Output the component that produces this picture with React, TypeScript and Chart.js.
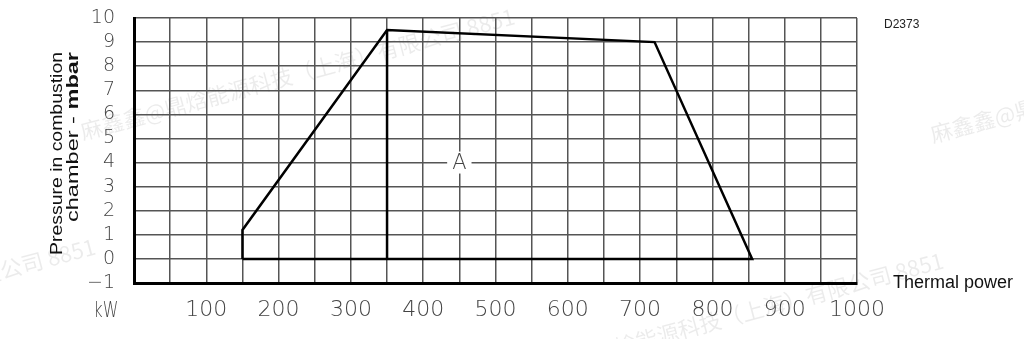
import React, { useEffect, useRef } from 'react';
import { Chart, registerables } from 'chart.js';

Chart.register(...registerables);

// ---- data ----
const xMin = 0;
const xMax = 1000;
const xGridStep = 50;
const yMin = -1;
const yMax = 10;
const yStep = 1;
const xLabelValues = [100, 200, 300, 400, 500, 600, 700, 800, 900, 1000];

const outlineX = [150, 150, 350, 720, 855, 150];
const outlineY = [0, 1.2, 9.5, 9.0, 0, 0];
const dividerX = [350, 350];
const dividerY = [0, 9.5];

const areaLabelText = 'A';
const areaLabelX = 450;
const areaLabelY = 4;

const yTitleLine1 = 'Pressure in combustion';
const yTitleLine2Regular = 'chamber - ';
const yTitleLine2Bold = 'mbar';
const xUnitText = 'kW';
const xTitleText = 'Thermal power';
const drawingCode = 'D2373';
const watermarkText = '麻鑫鑫@鼎焓能源科技（上海）有限公司 8851';

const THIN_FONT = '"DejaVu Sans"';
const SANS = '"Liberation Sans", Arial, sans-serif';

const decorPlugin = {
  id: 'decor',
  beforeDraw(chart: any) {
    const ctx = chart.ctx;
    ctx.save();
    ctx.fillStyle = '#ffffff';
    ctx.fillRect(0, 0, chart.width, chart.height);
    // faint watermarks
    ctx.font = '22px "Noto Sans CJK SC", sans-serif';
    ctx.fillStyle = 'rgba(0,0,0,0.08)';
    ctx.textBaseline = 'alphabetic';
    const ang = -15 * Math.PI / 180;
    const starts = [
      { x: 83, y: 140, align: 'left' },
      { x: 933, y: 143, align: 'left' },
      { x: 97, y: 254, align: 'right' },
      { x: 945, y: 268, align: 'right' },
    ];
    for (const s of starts) {
      ctx.save();
      ctx.translate(s.x, s.y);
      ctx.rotate(ang);
      ctx.textAlign = s.align;
      ctx.fillText(watermarkText, 0, 0);
      ctx.restore();
    }
    ctx.restore();
  },
  afterDraw(chart: any) {
    const ctx = chart.ctx;
    const xs = chart.scales.x;
    const ys = chart.scales.y;
    ctx.save();

    // area label "A" with white knock-out
    const ax = xs.getPixelForValue(areaLabelX);
    const ay = ys.getPixelForValue(areaLabelY);
    ctx.font = `200 21px ${THIN_FONT}`;
    ctx.textAlign = 'center';
    ctx.textBaseline = 'middle';
    const aw = ctx.measureText(areaLabelText).width;
    ctx.fillStyle = '#ffffff';
    ctx.fillRect(ax - aw / 2 - 5, ay - 11, aw + 10, 22);
    ctx.fillStyle = '#444';
    ctx.fillText(areaLabelText, ax, ay + 1);

    // unit "kW" on tick-label row
    ctx.save();
    ctx.font = `200 22px ${THIN_FONT}`;
    ctx.fillStyle = '#444';
    ctx.textAlign = 'center';
    ctx.textBaseline = 'middle';
    ctx.translate(106, 311);
    ctx.scale(0.72, 1);
    ctx.fillText(xUnitText, 0, 0);
    ctx.restore();

    // x title
    ctx.font = `18px ${SANS}`;
    ctx.fillStyle = '#111';
    ctx.textAlign = 'left';
    ctx.textBaseline = 'middle';
    ctx.fillText(xTitleText, 893, 283);

    // drawing code
    ctx.font = `12px ${SANS}`;
    ctx.fillStyle = '#222';
    ctx.fillText(drawingCode, 884, 25);

    // y title (two lines, rotated)
    ctx.fillStyle = '#111';
    ctx.textBaseline = 'middle';
    ctx.textAlign = 'left';
    // line 1
    ctx.save();
    ctx.font = `17px ${SANS}`;
    const w1 = ctx.measureText(yTitleLine1).width;
    ctx.translate(57, 255);
    ctx.rotate(-Math.PI / 2);
    ctx.scale(203 / w1, 1);
    ctx.fillText(yTitleLine1, 0, 0);
    ctx.restore();
    // line 2
    ctx.save();
    ctx.font = `17px ${SANS}`;
    const w2a = ctx.measureText(yTitleLine2Regular).width;
    ctx.font = `bold 17px ${SANS}`;
    const w2b = ctx.measureText(yTitleLine2Bold).width;
    ctx.translate(73, 222);
    ctx.rotate(-Math.PI / 2);
    ctx.scale(170 / (w2a + w2b), 1);
    ctx.font = `17px ${SANS}`;
    ctx.fillText(yTitleLine2Regular, 0, 0);
    ctx.font = `bold 17px ${SANS}`;
    ctx.fillText(yTitleLine2Bold, w2a, 0);
    ctx.restore();

    ctx.restore();
  },
};

export default function App() {
  const ref = useRef<HTMLCanvasElement | null>(null);

  useEffect(() => {
    const canvas = ref.current;
    if (!canvas) return;
    const outline = outlineX.map((x, i) => ({ x, y: outlineY[i] }));
    const divider = dividerX.map((x, i) => ({ x, y: dividerY[i] }));
    const chart = new Chart(canvas, {
      type: 'line',
      data: {
        datasets: [
          {
            data: outline,
            borderColor: '#000',
            borderWidth: 2.5,
            pointRadius: 0,
            tension: 0,
            fill: false,
          },
          {
            data: divider,
            borderColor: '#000',
            borderWidth: 2.5,
            pointRadius: 0,
            tension: 0,
            fill: false,
          },
        ],
      },
      options: {
        animation: false,
        responsive: false,
        devicePixelRatio: 1,
        layout: { autoPadding: false, padding: { left: 0, right: 167, top: 18, bottom: 0 } },
        plugins: {
          legend: { display: false },
          tooltip: { enabled: false },
          title: { display: false },
        },
        scales: {
          x: {
            type: 'linear',
            min: xMin,
            max: xMax,
            afterFit: (s: any) => { s.height = 56; s.paddingLeft = 0; s.paddingRight = 0; },
            ticks: {
              stepSize: xGridStep,
              autoSkip: false,
              maxRotation: 0,
              padding: 14,
              color: '#444',
              font: { family: THIN_FONT, size: 22, weight: '200' as any },
              callback: (v: any) => (xLabelValues.includes(Number(v)) ? String(v) : ''),
            },
            grid: { color: '#555', lineWidth: 1.5, drawTicks: false },
            border: { display: true, color: '#000', width: 3 },
          },
          y: {
            type: 'linear',
            min: yMin,
            max: yMax,
            afterFit: (s: any) => { s.width = 134; s.paddingTop = 0; s.paddingBottom = 0; },
            ticks: {
              stepSize: yStep,
              autoSkip: false,
              padding: 19,
              color: '#444',
              font: { family: THIN_FONT, size: 19, weight: '200' as any },
              callback: (v: any) => (Number(v) < 0 ? '\u2212' + Math.abs(Number(v)) : String(v)),
            },
            grid: { color: '#555', lineWidth: 1.5, drawTicks: false },
            border: { display: true, color: '#000', width: 3 },
          },
        },
      },
      plugins: [decorPlugin],
    });
    return () => chart.destroy();
  }, []);

  return (
    <div style={{ position: 'fixed', left: 0, top: 0, width: 1024, height: 339, background: '#fff' }}>
      <canvas ref={ref} width={1024} height={339} style={{ display: 'block', width: 1024, height: 339 }} />
    </div>
  );
}
